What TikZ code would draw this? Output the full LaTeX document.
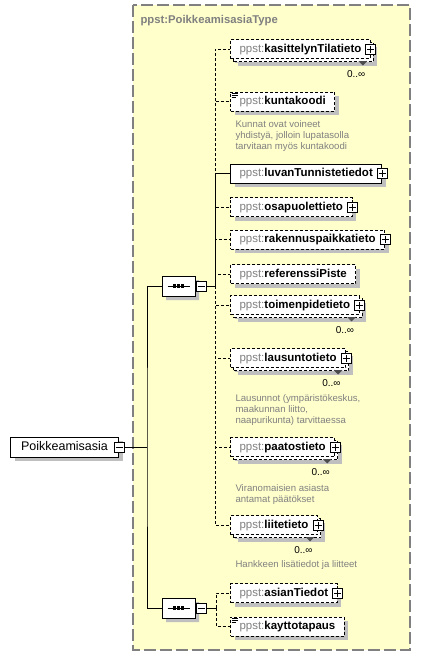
\documentclass[tikz,border=0pt]{standalone}
\usepackage{fontspec}
\setmainfont{Liberation Sans}
\usetikzlibrary{shapes.misc, shadows}

\definecolor{typefill}{RGB}{255,255,204}
\definecolor{prefixgray}{RGB}{128,128,128}
\definecolor{notegray}{RGB}{128,128,128}

\newcommand{\elname}[1]{{\color{prefixgray}ppst:}\textbf{#1}}
\newcommand{\elplus}[1]{\elname{#1}\hspace{7pt}}

\tikzset{
  boxshadow/.style={drop shadow={shadow xshift=4pt, shadow yshift=-4pt, fill=black!25, opacity=1}},
  elem/.style={draw, fill=white, anchor=west, minimum height=19pt, inner xsep=9pt, inner ysep=0pt,
    text height=8.5pt, text depth=2.5pt, font=\fontsize{11.5}{13}\selectfont, boxshadow},
  opt/.style={dash pattern=on 3pt off 2pt},
  many/.style={drop shadow={shadow xshift=7pt, shadow yshift=-7pt, fill=black!25, opacity=1},
    copy shadow={shadow xshift=3pt, shadow yshift=-3pt, draw=black, fill=white, opt}},
  minusbox/.style={draw, fill=white, solid, minimum width=10pt, minimum height=10pt, inner sep=0pt,
    path picture={\draw ([xshift=-3.5pt]path picture bounding box.center) -- ([xshift=3.5pt]path picture bounding box.center);}},
  plusbox/.style={draw, fill=white, solid, minimum width=10pt, minimum height=10pt, inner sep=0pt,
    path picture={\draw ([xshift=-3.5pt]path picture bounding box.center) -- ([xshift=3.5pt]path picture bounding box.center);
      \draw ([yshift=-3.5pt]path picture bounding box.center) -- ([yshift=3.5pt]path picture bounding box.center);}},
  seq/.style={chamfered rectangle, chamfered rectangle xsep=5pt, draw, fill=white, minimum width=33pt,
    minimum height=20pt, inner sep=0pt, boxshadow,
    path picture={\draw ([xshift=-11pt]path picture bounding box.center) -- ([xshift=11pt]path picture bounding box.center);
      \foreach \d in {-4.3,0,4.3}
        \fill[black] ([xshift=\d pt]path picture bounding box.center) +(-1.6pt,-1.6pt) rectangle +(1.6pt,1.6pt);}},
  note/.style={anchor=base west, align=left, text=notegray, font=\fontsize{9.6}{11}\selectfont, inner sep=0pt},
  occ/.style={anchor=base east, inner sep=0pt, font=\fontsize{10}{12}\selectfont},
  notch/.style={fill=white, line width=0.6pt, black!70},
  typebox/.style={fill=typefill, draw=prefixgray, line width=1.3pt, dash pattern=on 12pt off 4pt}
}

\begin{document}
\begin{tikzpicture}[x=1pt, y=-1pt, line width=1pt]
  \useasboundingbox (0,0) rectangle (421,657);
  \draw[typebox] (133,5) rectangle (410,650);
  \node[anchor=base west, inner sep=0pt, text=prefixgray, font=\bfseries\fontsize{11.3}{13}\selectfont] (tname) at (140,23) {ppst:PoikkeamisasiaType};

  % root element
  \node[elem, font=\fontsize{12.5}{14}\selectfont, minimum width=108pt, minimum height=20pt] (root) at (10,447) {Poikkeamisasia};
  \node[minusbox] (rootm) at (root.east) {};

  % sequences
  \node[seq] (seq1) at (178.5,286) {};
  \node[minusbox, anchor=west] (seq1m) at (seq1.east) {};
  \node[seq] (seq2) at (178.5,608) {};
  \node[minusbox, anchor=west] (seq2m) at (seq2.east) {};
  \coordinate (j) at (147,447);
  \coordinate (b1) at (215,286);
  \coordinate (b2) at (216,608);

  % children of the first sequence
  \node[elem, opt, many] (tila) at (230,49) {\elplus{kasittelynTilatieto}};
  \node[elem, opt] (kunta) at (230,101.5) {\elname{kuntakoodi}};
  \node[elem] (luvan) at (230,173.5) {\elplus{luvanTunnistetiedot}};
  \node[elem, opt] (osapuoli) at (230,207) {\elplus{osapuolettieto}};
  \node[elem, opt] (rakpaikka) at (230,239.5) {\elplus{rakennuspaikkatieto}};
  \node[elem, opt] (refpiste) at (230,274) {\elname{referenssiPiste}};
  \node[elem, opt, many] (toimenpide) at (230,305) {\elplus{toimenpidetieto}};
  \node[elem, opt, many] (lausunto) at (230,358) {\elplus{lausuntotieto}};
  \node[elem, opt, many] (paatos) at (230,447) {\elplus{paatostieto}};
  \node[elem, opt, many] (liite) at (230,525) {\elplus{liitetieto}};

  % children of the second sequence
  \node[elem, opt] (asian) at (230,593) {\elplus{asianTiedot}};
  \node[elem, opt] (kaytto) at (230,626.5) {\elname{kayttotapaus}};

  \node[plusbox] (tilap) at (tila.east) {};
  \node[plusbox] (luvanp) at (luvan.east) {};
  \node[plusbox] (osapuolip) at (osapuoli.east) {};
  \node[plusbox] (rakpaikkap) at (rakpaikka.east) {};
  \node[plusbox] (toimenpidep) at (toimenpide.east) {};
  \node[plusbox] (lausuntop) at (lausunto.east) {};
  \node[plusbox] (paatosp) at (paatos.east) {};
  \node[plusbox] (liitep) at (liite.east) {};
  \node[plusbox] (asianp) at (asian.east) {};

  % simple content marks
  \draw[line width=0.8pt] ([shift={(1.5,1.5)}]kunta.north west) -- ++(6,0) ++(-6,2) -- ++(6,0) ++(-6,2) -- ++(4,0);
  \draw[line width=0.8pt] ([shift={(1.5,1.5)}]kaytto.north west) -- ++(6,0) ++(-6,2) -- ++(6,0) ++(-6,2) -- ++(4,0);

  % occurrences
  \draw[notch] ([shift={(-12,2)}]tila.south east) -- ++(4,4) -- ++(4,-4);
  \draw[notch] ([shift={(-12,2)}]toimenpide.south east) -- ++(4,4) -- ++(4,-4);
  \draw[notch] ([shift={(-12,2)}]lausunto.south east) -- ++(4,4) -- ++(4,-4);
  \draw[notch] ([shift={(-12,2)}]paatos.south east) -- ++(4,4) -- ++(4,-4);
  \draw[notch] ([shift={(-12,2)}]liite.south east) -- ++(4,4) -- ++(4,-4);
  \node[occ] (tilao) at ([shift={(-5,18)}]tila.south east) {0..∞};
  \node[occ] (toimenpideo) at ([shift={(-5,18)}]toimenpide.south east) {0..∞};
  \node[occ] (lausuntoo) at ([shift={(-5,18)}]lausunto.south east) {0..∞};
  \node[occ] (paatoso) at ([shift={(-5,18)}]paatos.south east) {0..∞};
  \node[occ] (liiteo) at ([shift={(-5,18)}]liite.south east) {0..∞};

  % annotations (anchored at the baseline of their last line)
  \node[note] (kuntanote) at (235,149) {Kunnat ovat voineet\\yhdistyä, jolloin lupatasolla\\tarvitaan myös kuntakoodi};
  \node[note] (lausuntonote) at (235,423.5) {Lausunnot (ympäristökeskus,\\maakunnan liitto,\\naapurikunta) tarvittaessa};
  \node[note] (paatosnote) at (235,502) {Viranomaisien asiasta\\antamat päätökset};
  \node[note] (liitenote) at (235,567.5) {Hankkeen lisätiedot ja liitteet};

  % connectors
  \draw (rootm.east) -- (j);
  \draw (seq1.west) -| (j) |- (seq2.west);
  \draw (seq1m.east) -- (b1);
  \draw (seq2m.east) -- (b2);
  \draw[opt] (b1) |- (tila.west);
  \draw[opt] (b1) |- (kunta.west);
  \draw (b1) |- (luvan.west);
  \draw[opt] (b1) |- (osapuoli.west);
  \draw[opt] (b1) |- (rakpaikka.west);
  \draw[opt] (b1) |- (refpiste.west);
  \draw[opt] (b1) |- (toimenpide.west);
  \draw[opt] (b1) |- (lausunto.west);
  \draw[opt] (b1) |- (paatos.west);
  \draw[opt] (b1) |- (liite.west);
  \draw[opt] (b2) |- (asian.west);
  \draw[opt] (b2) |- (kaytto.west);
\end{tikzpicture}
\end{document}
